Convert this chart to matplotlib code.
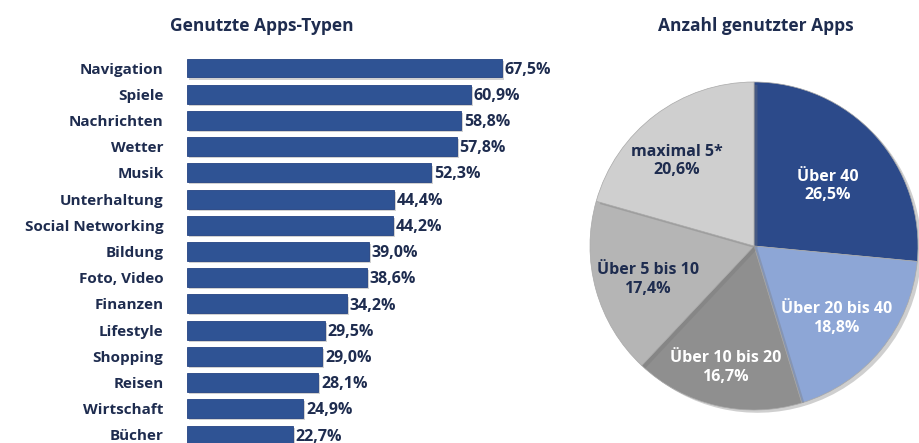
import matplotlib
matplotlib.use('Agg')
import matplotlib.pyplot as plt
import matplotlib.patheffects as pe
import numpy as np

# Data
APP_TYPES = ['Navigation', 'Spiele', 'Nachrichten', 'Wetter', 'Musik', 'Unterhaltung',
             'Social Networking', 'Bildung', 'Foto, Video', 'Finanzen', 'Lifestyle',
             'Shopping', 'Reisen', 'Wirtschaft', 'Bücher']
APP_SHARE = [67.5, 60.9, 58.8, 57.8, 52.3, 44.4, 44.2, 39.0, 38.6, 34.2, 29.5, 29.0, 28.1, 24.9, 22.7]

PIE_LABELS = ['Über 40', 'Über 20 bis 40', 'Über 10 bis 20', 'Über 5 bis 10', 'maximal 5*']
PIE_SHARE = [26.5, 18.8, 16.7, 17.4, 20.6]

NAVY = '#1e2c4f'
BAR_COLOR = '#2f5394'
PIE_COLORS = ['#2c4a8a', '#8da6d6', '#8f8f8f', '#b5b5b5', '#cfcfcf']
PIE_TEXT = ['white', 'white', 'white', NAVY, NAVY]
# radial fraction and angle tweak (deg) for each pie label
PIE_LABEL_R = [0.58, 0.67, 0.76, 0.68, 0.70]
PIE_LABEL_DA = [-3, -2, 0, 2, 5]

FONT = 'Open Sans'


def fmt(v):
    return f'{v:.1f}%'.replace('.', ',')


W, H = 919, 443
fig = plt.figure(figsize=(W / 100, H / 100), dpi=100)
fig.patch.set_facecolor('white')

# ---- Bar chart ----
bx0, bx1 = 187, 560
row0, row_step = 68, 26.2
top_px, bot_px = 55, 443
ax = fig.add_axes([bx0 / W, 1 - bot_px / H, (bx1 - bx0) / W, (bot_px - top_px) / H])
px_per_pct = 315 / 67.5
ax.set_xlim(0, (bx1 - bx0) / px_per_pct)
n = len(APP_TYPES)
ax.set_ylim((n - 1) + (bot_px - 435) / row_step, -(row0 - top_px) / row_step)

y = np.arange(n)
bars = ax.barh(y, APP_SHARE, height=0.72, color=BAR_COLOR, edgecolor='#244383', linewidth=0.6)
for b in bars:
    b.set_path_effects([pe.SimplePatchShadow(offset=(1.5, -1.5), shadow_rgbFace='#9a9a9a', alpha=0.45),
                        pe.Normal()])
for yi, v in zip(y, APP_SHARE):
    ax.text(v + 0.6, yi + 0.06, fmt(v), va='center', ha='left', fontsize=11.5,
            fontweight='bold', color=NAVY, family=FONT)

ax.set_yticks(y)
ax.set_yticklabels(APP_TYPES, fontsize=11, fontweight='bold', color=NAVY, family=FONT)
ax.tick_params(axis='y', length=0, pad=17)
ax.set_xticks([])
for s in ax.spines.values():
    s.set_visible(False)

fig.text(262 / W, 1 - 26 / H, 'Genutzte Apps-Typen', ha='center', va='center',
         fontsize=12.5, fontweight='bold', color=NAVY, family=FONT)

# ---- Pie chart ----
cx, cy, r = 754, 246, 164
lim = 1.02
half = lim * r
pax = fig.add_axes([(cx - half) / W, (H - cy - half) / H, 2 * half / W, 2 * half / H])
wedges, _ = pax.pie(PIE_SHARE, colors=PIE_COLORS, startangle=90, counterclock=False,
                    radius=1.0, wedgeprops=dict(edgecolor='#a8a8a8', linewidth=0.5))
for w in wedges:
    w.set_path_effects([pe.SimplePatchShadow(offset=(2.5, -2), shadow_rgbFace='#777777', alpha=0.35),
                        pe.Normal()])
pax.set_xlim(-lim, lim)
pax.set_ylim(-lim, lim)
pax.set_aspect('equal')
pax.axis('off')

for w, lab, v, tc, rf, da in zip(wedges, PIE_LABELS, PIE_SHARE, PIE_TEXT, PIE_LABEL_R, PIE_LABEL_DA):
    ang = np.deg2rad((w.theta1 + w.theta2) / 2 + da)
    pax.text(rf * np.cos(ang), rf * np.sin(ang), f'{lab}\n{fmt(v)}', ha='center', va='center',
             fontsize=11.5, fontweight='bold', color=tc, family=FONT, linespacing=1.2)

fig.text(756 / W, 1 - 26 / H, 'Anzahl genutzter Apps', ha='center', va='center',
         fontsize=12.5, fontweight='bold', color=NAVY, family=FONT)

fig.savefig('out.png', dpi=100)
plt.close(fig)
